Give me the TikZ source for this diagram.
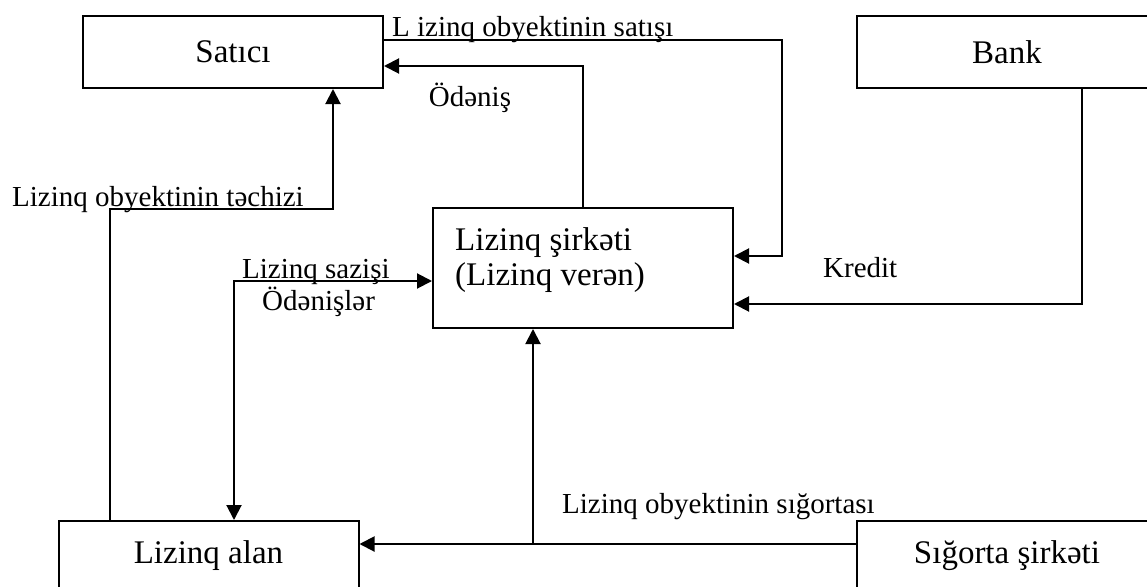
\documentclass[tikz,border=0pt]{standalone}
\usepackage{fontspec}
\setmainfont{Liberation Serif}
\usetikzlibrary{arrows.meta}
\begin{document}
\begin{tikzpicture}[x=1pt,y=-1pt,
  box/.style={draw,line width=2pt,minimum width=300pt,minimum height=72pt,inner sep=0pt,
    font=\fontsize{33}{36}\selectfont},
  lbl/.style={inner sep=0pt,anchor=base west,font=\fontsize{29}{32}\selectfont},
  wire/.style={line width=2pt},
  arr/.style={wire,-{Triangle[length=15pt,width=15pt]}},
  arrboth/.style={wire,{Triangle[length=15pt,width=15pt]}-{Triangle[length=15pt,width=15pt]}}]
\fill[white] (0,0) rectangle (1147,586);
\useasboundingbox (0,0) rectangle (1147,586);
\clip (0,0) rectangle (1147,586);

% boxes
\node[box] (sat) at (233,52) {Satıcı};
\node[box] (bank) at (1007,52) {Bank};
\node[box,minimum height=120pt] (ls) at (583,268) {};
\node[lbl,font=\fontsize{33}{36}\selectfont] (ls1) at (455,250) {Lizinq şirkəti};
\node[lbl,font=\fontsize{33}{36}\selectfont] (ls2) at (455,285) {(Lizinq verən)};
\node[box,minimum height=69pt] (la) at (208.5,555.5) {Lizinq alan};
\node[box,minimum height=69pt] (sig) at (1007,555.5) {Sığorta şirkəti};

% bend points
\coordinate (c1) at (782,40);
\coordinate (c2) at (782,256);
\coordinate (c3) at (583,66);
\coordinate (c4) at (110,209);
\coordinate (c5) at (333,209);
\coordinate (c6) at (234,281);
\coordinate (c7) at (1082,304);
\coordinate (c8) at (533,544);

% connectors
\draw[arr] (sat.east |- c1) -- (c1) -- (c2) -- (ls.east |- c2);
\draw[arr] (ls.north) -- (c3) -- (sat.east |- c3);
\draw[arr] (la.north -| c4) -- (c4) -- (c5) -- (sat.south -| c5);
\draw[arrboth] (la.north -| c6) -- (c6) -- (ls.west |- c6);
\draw[arr] (bank.south -| c7) -- (c7) -- (ls.east |- c7);
\draw[arr] (sig.west |- c8) -- (la.east |- c8);
\draw[arr] (c8) -- (ls.south -| c8);

% labels
\node[lbl] (t1) at (392,37) {L izinq obyektinin satışı};
\node[lbl,anchor=base] (t2) at (470,106) {Ödəniş};
\node[lbl] (t3) at (12,206) {Lizinq obyektinin təchizi};
\node[lbl] (t4) at (242,278) {Lizinq sazişi};
\node[lbl] (t5) at (262,310) {Ödənişlər};
\node[lbl] (t6) at (823,277) {Kredit};
\node[lbl] (t7) at (562,513) {Lizinq obyektinin sığortası};
\end{tikzpicture}
\end{document}
